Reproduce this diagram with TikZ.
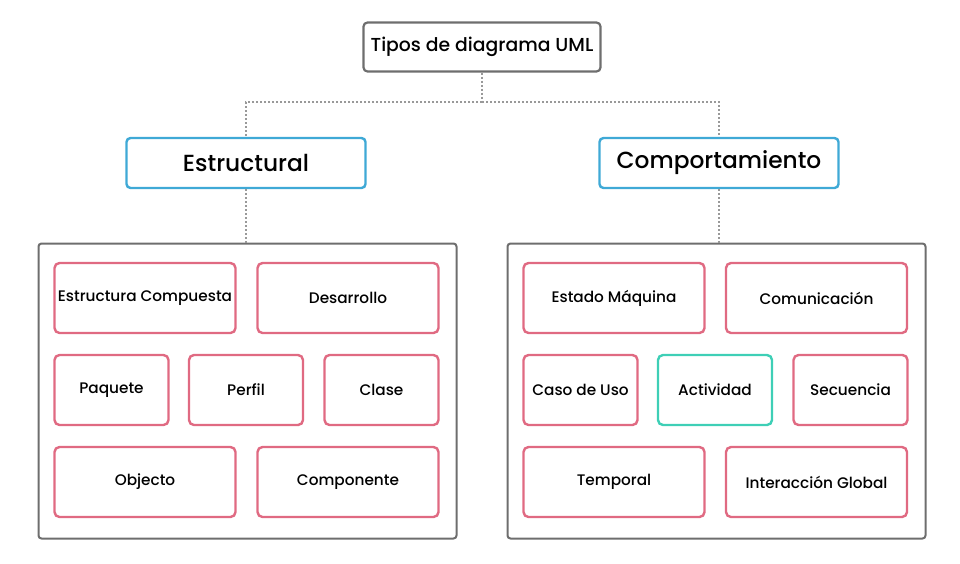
\documentclass[tikz,border=0pt]{standalone}
\usepackage{fontspec}
\setmainfont{Poppins Medium}
\usetikzlibrary{positioning}
\definecolor{rootgray}{HTML}{6E6E6E}
\definecolor{groupblue}{HTML}{3FA9D6}
\definecolor{kindpink}{HTML}{E06A82}
\definecolor{kindteal}{HTML}{3ECFB6}

\begin{document}
\begin{tikzpicture}[
            x=1pt, y=-1pt,
            title/.style={rectangle, rounded corners=4pt, draw=rootgray, line width=2.2pt,
                          minimum width=237pt, minimum height=49pt, font=\fontsize{18.8}{21}\selectfont},
            group/.style={rectangle, rounded corners=4pt, draw=groupblue, line width=2.4pt,
                          minimum width=239pt, minimum height=50pt, font=\fontsize{23.3}{26}\selectfont},
            panel/.style={rectangle, rounded corners=3pt, draw=rootgray, line width=2pt,
                          minimum width=418pt, minimum height=295pt},
            kind/.style={rectangle, rounded corners=5pt, draw=kindpink, line width=2.4pt,
                         minimum height=70pt, inner sep=1pt, font=\fontsize{15.3}{17}\selectfont},
            wide/.style={kind, minimum width=181pt},
            narrow/.style={kind, minimum width=114pt},
            link/.style={gray!80, line width=2pt, dotted}
        ]
            \useasboundingbox (0,0) rectangle (960,563);

            % Root
            \node[title] (uml) at (482,47) {Tipos de diagrama UML};
            \coordinate (split) at (482,102);
            \node[group] (est) at (246,163) {Estructural};
            \node[group] (comp) at (719,163) {Comportamiento};
            \draw[link] (uml.south) -- (split);
            \draw[link] (split) -| (est.north);
            \draw[link] (split) -| (comp.north);

            % Estructural
            \node[panel] (estpanel) at (247.5,391) {};
            \node[wide] (ec) at (145,298) {Estructura Compuesta};
            \node[wide] (des) at (348,298) {Desarrollo};
            \node[narrow] (paq) at (111.5,390) {Paquete};
            \node[narrow] (per) at (246,390) {Perfil};
            \node[narrow] (cla) at (381.5,390) {Clase};
            \node[wide] (obj) at (145,482) {Objecto};
            \node[wide] (cpn) at (348,482) {Componente};
            \draw[link] (est.south) -- (est.south |- estpanel.north);

            % Comportamiento
            \node[panel] (comppanel) at (716.5,391) {};
            \node[wide] (em) at (614,298) {Estado Máquina};
            \node[wide] (com) at (816.5,298) {Comunicación};
            \node[narrow] (cu) at (580.5,390) {Caso de Uso};
            \node[narrow, draw=kindteal] (act) at (715,390) {Actividad};
            \node[narrow] (sec) at (850.5,390) {Secuencia};
            \node[wide] (tem) at (614,482) {Temporal};
            \node[wide] (ig) at (816.5,482) {Interacción Global};
            \draw[link] (comp.south) -- (comp.south |- comppanel.north);
        \end{tikzpicture}
\end{document}
